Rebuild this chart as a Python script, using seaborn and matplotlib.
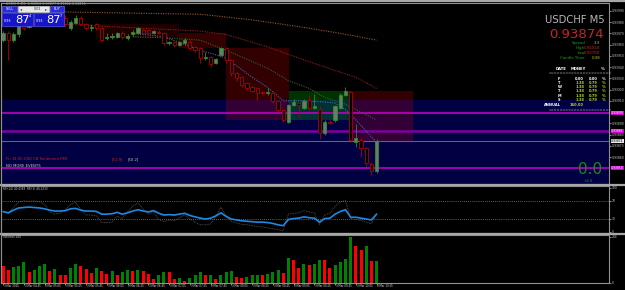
import numpy as np
import pandas as pd
import matplotlib
matplotlib.use("Agg")
import matplotlib.pyplot as plt
import seaborn as sns
from matplotlib.patches import Rectangle
from matplotlib.lines import Line2D

# ---------------- data ----------------
opens = [0.93964,0.93970,0.93964,0.93969,0.93978,0.93976,0.93980,0.93978,0.93983,0.93987,
         0.93983,0.93987,0.93984,0.93975,0.93979,0.93984,0.93978,0.93975,0.93978,0.93975,
         0.93966,0.93967,0.93967,0.93970,0.93966,0.93969,0.93970,0.93973,0.93973,0.93970,
         0.93971,0.93970,0.93961,0.93962,0.93960,0.93961,0.93962,0.93958,0.93957,0.93948,
         0.93949,0.93944,0.93951,0.93957,0.93946,0.93935,0.93931,0.93926,0.93922,0.93921,
         0.93918,0.93917,0.93917,0.93910,0.93902,0.93891,0.93906,0.93908,0.93904,0.93911,
         0.93904,0.93903,0.93881,0.93891,0.93893,0.93904,0.93915,0.93918,0.93873,0.93875,
         0.93868,0.93854,0.93848]
highs = [0.93972,0.93972,0.93971,0.93980,0.93979,0.93982,0.93983,0.93986,0.93989,0.93989,
         0.93989,0.93989,0.93986,0.93982,0.93986,0.93985,0.93979,0.93978,0.93979,0.93976,
         0.93970,0.93970,0.93971,0.93972,0.93969,0.93973,0.93976,0.93975,0.93974,0.93973,
         0.93973,0.93971,0.93963,0.93963,0.93963,0.93966,0.93964,0.93959,0.93958,0.93953,
         0.93950,0.93948,0.93958,0.93958,0.93947,0.93936,0.93932,0.93927,0.93923,0.93922,
         0.93919,0.93921,0.93918,0.93911,0.93903,0.93907,0.93912,0.93909,0.93912,0.93915,
         0.93916,0.93905,0.93893,0.93893,0.93906,0.93917,0.93922,0.93919,0.93889,0.93877,
         0.93869,0.93856,0.93876]
lows = [0.93962,0.93946,0.93962,0.93967,0.93973,0.93975,0.93977,0.93977,0.93982,0.93982,
        0.93982,0.93982,0.93976,0.93973,0.93978,0.93977,0.93973,0.93972,0.93973,0.93962,
        0.93964,0.93965,0.93966,0.93965,0.93964,0.93968,0.93969,0.93969,0.93969,0.93969,
        0.93969,0.93960,0.93960,0.93958,0.93959,0.93960,0.93955,0.93953,0.93944,0.93946,
        0.93940,0.93943,0.93950,0.93944,0.93932,0.93928,0.93922,0.93920,0.93918,0.93911,
        0.93915,0.93915,0.93908,0.93900,0.93891,0.93890,0.93905,0.93895,0.93903,0.93903,
        0.93903,0.93876,0.93880,0.93889,0.93891,0.93903,0.93914,0.93873,0.93869,0.93860,
        0.93852,0.93844,0.93846]
closes = [0.93970,0.93964,0.93969,0.93978,0.93975,0.93980,0.93978,0.93984,0.93987,0.93983,
          0.93987,0.93984,0.93978,0.93980,0.93984,0.93978,0.93975,0.93976,0.93975,0.93964,
          0.93967,0.93968,0.93970,0.93967,0.93968,0.93971,0.93975,0.93970,0.93970,0.93972,
          0.93970,0.93961,0.93962,0.93960,0.93962,0.93964,0.93957,0.93955,0.93948,0.93949,
          0.93943,0.93947,0.93957,0.93946,0.93935,0.93930,0.93924,0.93921,0.93919,0.93917,
          0.93917,0.93918,0.93910,0.93902,0.93893,0.93906,0.93909,0.93906,0.93910,0.93904,
          0.93905,0.93881,0.93891,0.93890,0.93905,0.93915,0.93919,0.93875,0.93877,0.93868,
          0.93855,0.93848,0.93874]

volumes = [104,77,95,102,126,68,75,102,116,70,83,46,46,89,114,102,83,62,89,70,
           52,70,46,66,77,70,77,70,54,19,46,66,66,21,27,12,27,44,64,44,
           46,21,46,68,70,33,31,35,46,46,46,56,66,79,60,153,139,91,116,108,
           116,139,139,93,110,130,149,284,226,205,226,133,137]
vol_dir = ["d","d","u","u","u","d","u","u","u","d","u","d","d","u","u","d","d","d","u","d",
           "d","u","d","u","u","d","u","d","d","d","u","u","d","d","u","d","u","u","u","d",
           "u","d","u","u","u","d","d","u","u","u","d","u","u","u","d","u","d","d","u","d",
           "u","u","d","d","u","u","u","u","d","d","u","d","u"]

rsi14 = [46,43,49,54,55,56,55,54,52,49,47,47,48,52,53,49,47,47,46,40,
         40,41,44,40,43,47,50,47,45,48,42,38,39,38,40,42,37,34,31,29,
         31,36,43,35,29,27,25,24,23,22,22,21,19,16,14,28,30,31,34,32,
         31,22,30,31,40,46,50,33,33,31,29,27,40]
rsi3 = [45,42,55,68,70,69,70,68,62,45,40,42,50,62,67,50,38,38,36,21,
        21,22,35,30,45,58,65,52,40,45,28,23,27,25,32,38,30,22,16,16,
        18,35,56,35,23,20,17,16,14,12,11,9,7,5,3,40,42,43,48,45,
        43,16,38,42,58,67,71,30,28,26,22,18,42]

ma_slow_idx = [12,25,38,48,57,65,72]
ma_slow_val = [0.93989,0.93988,0.93987,0.93982,0.93976,0.93970,0.93964]
ma_red_idx = [12,25,38,43,51,57,64,68,72]
ma_red_val = [0.93978,0.93975,0.93972,0.93969,0.93958,0.93948,0.93937,0.93931,0.93921]
ma_green_idx = [25,31,38,44,51,55,59,62,66,72]
ma_green_val = [0.93967,0.93966,0.93964,0.93953,0.93939,0.93928,0.93921,0.93913,0.93907,0.93893]
ma_blue_idx = [25,31,38,43,48,51,54,58,62,64,66,68,72]
ma_blue_val = [0.93970,0.93967,0.93955,0.93948,0.93931,0.93922,0.93910,0.93910,0.93909,0.93908,0.93902,0.93893,0.93873]

zone_blue = (0.93830, 0.93911)
zones = [  # x0, x1, price_lo, price_hi, colour, alpha
    (18.0, 34.0, 0.93966, 0.93978, "#ff0000", 0.12),
    (34.0, 42.9, 0.93957, 0.93970, "#ff0000", 0.2),
    (42.9, 55.1, 0.93893, 0.93957, "#ff0000", 0.2),
    (55.1, 67.0, 0.93893, 0.93919, "#00ff00", 0.2),
    (67.0, 79.1, 0.93873, 0.93919, "#ff0000", 0.2),
]
levels = [0.93899, 0.93883, 0.93874, 0.93850]
level_colors = ["#c000c0", "#8000a0", "#606080", "#c000c0"]
level_lw = [1.2, 1.8, 0.8, 1.2]

price_ticks = [0.93860,0.93870,0.93880,0.93890,0.93910,0.93920,
               0.93930,0.93940,0.93950,0.93960,0.93970,0.93980,0.93990]
time_labels = ["3 Mar 2025","3 Mar 04:45","3 Mar 05:05","3 Mar 05:25","3 Mar 05:45",
               "3 Mar 06:05","3 Mar 06:25","3 Mar 06:45","3 Mar 07:05","3 Mar 07:25",
               "3 Mar 07:45","3 Mar 08:05","3 Mar 08:25","3 Mar 08:45","3 Mar 09:05",
               "3 Mar 09:25","3 Mar 09:45","3 Mar 10:05","3 Mar 10:25"]

# ---------------- layout ----------------
W, H = 625, 290
sns.set_theme(style="dark")
plt.rcParams["font.family"] = ["DejaVu Sans"]
fig = plt.figure(figsize=(W / 100, H / 100), dpi=100, facecolor="black")

def fx(x): return x / W
def fy(y): return 1 - y / H

def add_ax(y0, y1):
    ax = fig.add_axes([fx(1), fy(y1), fx(609) - fx(1), (y1 - y0) / H])
    ax.set_facecolor("black")
    for s in ax.spines.values():
        s.set_color("#909090"); s.set_linewidth(0.8)
    ax.grid(False)
    ax.yaxis.tick_right()
    ax.tick_params(axis="y", colors="#c8c8c8", labelsize=2.2, length=1.2, width=0.5, pad=0.6)
    ax.tick_params(axis="x", bottom=False, labelbottom=False)
    return ax

XL = (-0.4, 116.8)
idx = np.arange(len(closes))

# ---- main price panel ----
ax = add_ax(3, 184)
ax.set_xlim(*XL)
ax.set_ylim(0.93836, 0.93997)
ax.axhspan(zone_blue[0], zone_blue[1], color="#000042", zorder=0, lw=0)
for x0, x1, p0, p1, col, al in zones:
    ax.add_patch(Rectangle((x0, p0), x1 - x0, p1 - p0, facecolor=col, alpha=al, lw=0, zorder=1))
for lv, col, lw in zip(levels, level_colors, level_lw):
    ax.axhline(lv, color=col, lw=lw, zorder=2)

ma_specs = [(ma_slow_idx, ma_slow_val, "#9a5a20"), (ma_red_idx, ma_red_val, "#a01818"),
            (ma_green_idx, ma_green_val, "#2e6a2e"), (ma_blue_idx, ma_blue_val, "#4a64b0")]
for mi, mv, col in ma_specs:
    sns.lineplot(x=mi, y=mv, ax=ax, color=col, lw=0.8, linestyle=(0, (1, 1.2)), zorder=3)

o = np.array(opens); c = np.array(closes)
up = c >= o
edge = np.where(up, "#2e8b2e", "#b00000")
face = np.where(up, "#687c68", "#000000")
body_lo = np.minimum(o, c)
body_h = np.maximum(np.abs(c - o), 0.000008)
ax.vlines(idx, lows, highs, colors=edge, lw=0.6, zorder=4)
ax.bar(idx, body_h, bottom=body_lo, width=0.62, color=face, edgecolor=edge, linewidth=0.6, zorder=5)
ax.set_yticks(price_ticks)
ax.set_yticklabels([f"{p:.5f}" for p in price_ticks])
ax.set_xlabel(""); ax.set_ylabel("")

# ---- RSI panel ----
ax2 = add_ax(186, 233)
ax2.set_xlim(*XL)
ax2.set_ylim(-2.5, 103.5)
ax2.axhline(70, color="#808080", lw=0.6, linestyle=(0, (1, 1.5)))
ax2.axhline(30, color="#808080", lw=0.6, linestyle=(0, (1, 1.5)))
sns.lineplot(x=idx, y=rsi3, ax=ax2, color="#5a5a5a", lw=0.6, linestyle=(0, (1, 1)))
sns.lineplot(x=idx, y=rsi14, ax=ax2, color="#1e88e5", lw=1.2)
ax2.set_yticks([0, 30, 70, 100])
ax2.set_yticklabels(["0", "30", "70", "100"])
ax2.set_xlabel(""); ax2.set_ylabel("")

# ---- Volume panel ----
ax3 = add_ax(235, 282.5)
vdf = pd.DataFrame({"i": idx, "v": volumes, "d": vol_dir})
sns.barplot(data=vdf, x="i", y="v", hue="d", palette={"u": "#008200", "d": "#ff0000"},
            native_scale=True, dodge=False, width=0.58, errorbar=None, legend=False,
            ax=ax3, linewidth=0, saturation=1)
ax3.set_xlim(*XL)
ax3.set_ylim(0, 296)
ax3.set_yticks([0, 284]); ax3.set_yticklabels(["0", "284"])
ax3.set_xlabel(""); ax3.set_ylabel("")
ax3.tick_params(axis="x", bottom=True, length=1.2, colors="#c8c8c8", width=0.5)
tick_pos = np.arange(0, len(closes), 4)
ax3.set_xticks(tick_pos)
ax3.set_xticklabels([])
for tp, lab in zip(tick_pos, time_labels):
    ax3.text(tp + 0.15, -8, lab, fontsize=1.9, color="#d8d8d8", ha="left", va="top",
             transform=ax3.transData, clip_on=False)

# ---- frame lines ----
for yy, lw in [(1, 1.6), (185, 1.6), (234.2, 1.6)]:
    fig.add_artist(Line2D([0, 1], [fy(yy), fy(yy)], color="#a8a8a8", lw=lw))
fig.add_artist(Line2D([fx(1), fx(1)], [fy(3), fy(283)], color="#909090", lw=0.8))

# ---- overlay texts ----
def T(x, y, s, size, color, ha="left", va="center", weight="normal", **kw):
    fig.text(fx(x), fy(y), s, fontsize=size, color=color, ha=ha, va=va, weight=weight, **kw)

T(6, 3.6, "USDCHF,M5  0.93866 0.93877 0.93862 0.93874", 2.3, "#a0a0a0")

# trade panel
def box(x0, y0, x1, y1, col, ec=None):
    fig.add_artist(Rectangle((fx(x0), fy(y1)), fx(x1) - fx(x0), (y1 - y0) / H,
                             facecolor=col, edgecolor=ec or col, lw=0.4, transform=fig.transFigure))
box(2, 6, 17, 12, "#2a2ae0", "#8080ff"); T(9.5, 9, "SELL", 2.4, "white", ha="center")
box(18, 6, 49, 12, "#e8e8e8"); T(21, 9, "◂", 3, "#404040", ha="center")
T(38, 9, "0.01", 2.4, "#202020", ha="center"); T(46.5, 9, "▸", 3, "#404040", ha="center")
box(50, 6, 64, 12, "#2a2ae0", "#8080ff"); T(57, 9, "BUY", 2.4, "white", ha="center")
box(2, 13, 33, 26, "#1616c8", "#6060ff"); box(34, 13, 64, 26, "#1616c8", "#6060ff")
T(4, 21, "0.93", 2.4, "white"); T(15.5, 20, "87", 8.2, "white"); T(28.5, 15.8, "4", 2.6, "white")
T(36, 21, "0.93", 2.4, "white"); T(46.5, 20, "87", 8.2, "white"); T(59.5, 15.8, "7", 2.6, "white")

# info block
T(605, 20, "USDCHF M5", 7.2, "#b8b8b8", ha="right")
T(604, 35, "0.93874", 9.5, "#d02020", ha="right")
for yy, lab, val, vc in [(43, "Spread", "3.3", "#c8c800"), (48, "High", "0.94018", "#c82020"),
                         (53, "Low", "0.93780", "#c82020"), (58, "Candle Time", "0:38", "#c8c800")]:
    T(585, yy, lab, 2.8, "#20a020", ha="right")
    T(600, yy, val, 2.8, vc, ha="right")
T(556, 69, "DATE", 2.7, "white", weight="bold")
T(571, 69, "MONEY", 2.7, "white", weight="bold")
T(605, 69, "%", 2.7, "white", weight="bold", ha="right")
T(580, 73.5, "=" * 22, 2.4, "#d0d0d0", ha="center")
rows = [("F", "0.00", "0.00", "white"), ("T", "1.38", "0.79", "#a8d820"), ("W", "1.38", "0.79", "#a8d820"),
        ("T", "1.38", "0.79", "#a8d820"), ("M", "1.38", "0.79", "#a8d820"), ("S", "1.38", "0.79", "#a8d820")]
for k, (d, m, p, col) in enumerate(rows):
    yy = 78.5 + k * 4.3
    T(558, yy, d, 2.6, "white", weight="bold")
    T(584, yy, m, 2.6, col, ha="right", weight="bold")
    T(598, yy, p, 2.6, col, ha="right", weight="bold")
    T(605, yy, "%", 2.6, col, ha="right", weight="bold")
T(544, 105, "ANNUAL", 2.6, "white", weight="bold")
T(584, 105, "160.00", 2.6, "#a8d820", ha="right", weight="bold")
T(580, 110, "=" * 22, 2.4, "#d0d0d0", ha="center")

T(6, 159.5, "Fri 14:00 USD CB Sentiment PMI", 2.7, "#d02020")
T(112, 159.5, "[51.9]", 2.7, "#d02020")
T(128, 159.5, "[50.2]", 2.7, "#c0c0c0")
T(6, 166, "NO MORE EVENTS", 2.7, "#c8c8c8")
T(602, 170, "0.0", 11, "#1a8a1a", ha="right")
T(584, 181, "+4.8", 2.8, "#1a8a1a")

# coloured price labels
for yy, txt, col, tc in [(113, "0.93899", "#d000d0", "white"), (131, "0.93883", "#d000d0", "white"),
                         (141, "0.93874", "#e8e8e8", "black"), (168, "0.93850", "#d000d0", "white")]:
    T(611, yy, txt, 2.2, tc, bbox=dict(boxstyle="square,pad=0.15", fc=col, ec="none"))

T(3, 188.5, "RSI(14) 40.4388  RSI(3) 46.2233", 2.0, "#c8c8c8")
T(3, 237.5, "Volumes 284", 2.0, "#c8c8c8")

fig.savefig("out.png", dpi=100, facecolor="black")
